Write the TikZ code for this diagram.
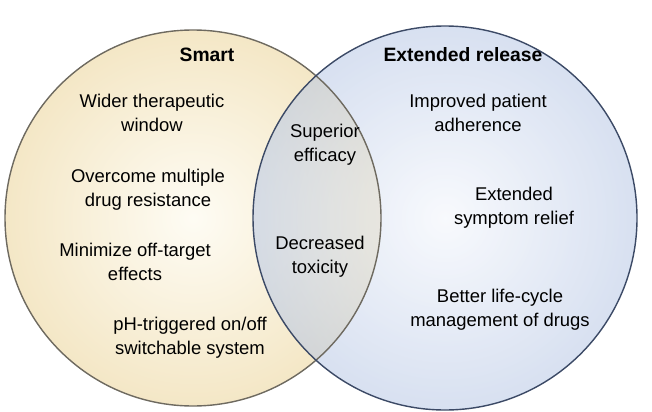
\documentclass[tikz,border=0pt]{standalone}
\usepackage{fontspec}
\setmainfont{Liberation Sans}
\usepackage{tikz}
\usetikzlibrary{positioning}
\definecolor{smartin}{HTML}{FEFCF4}
\definecolor{smartout}{HTML}{F4E7C6}
\definecolor{extin}{HTML}{F2F5FB}
\definecolor{extout}{HTML}{B7C7E5}
\definecolor{smartline}{HTML}{6E6A60}
\definecolor{extline}{HTML}{3C4A66}
\tikzset{
  lbl/.style={align=center,font=\fontsize{10.5}{13.5}\selectfont,inner sep=0pt},
  ttl/.style={lbl,font=\fontsize{11}{13.5}\selectfont\bfseries}
}
\begin{document}
\begin{tikzpicture}[x=0.02cm,y=-0.02cm]
  \useasboundingbox (0,0) rectangle (652,412);
  % circles
  \shade[inner color=smartin,outer color=smartout] (193,218) circle (188);
  \shade[inner color=extin,outer color=extout,opacity=0.55] (445,218) circle (192);
  \draw[smartline,thick] (193,218) circle (188);
  \draw[extline,thick] (445,218) circle (192);
  % titles
  \node[ttl] (smart) at (207,55) {Smart};
  \node[ttl] (ext) at (463,55) {Extended release};
  % smart
  \node[lbl] (wider) at (152,113) {Wider therapeutic\\window};
  \node[lbl] (mdr) at (148,190) {Overcome multiple\\drug resistance};
  \node[lbl] (offt) at (135,262) {Minimize off-target\\effects};
  \node[lbl] (ph) at (190,338) {pH-triggered on/off\\switchable system};
  % both
  \node[lbl] (eff) at (325,145) {Superior\\efficacy};
  \node[lbl] (tox) at (320,257) {Decreased\\toxicity};
  % extended release
  \node[lbl] (adh) at (478,113) {Improved patient\\adherence};
  \node[lbl] (relief) at (514,208) {Extended\\symptom relief};
  \node[lbl] (life) at (500,310) {Better life-cycle\\management of drugs};
\end{tikzpicture}
\end{document}
